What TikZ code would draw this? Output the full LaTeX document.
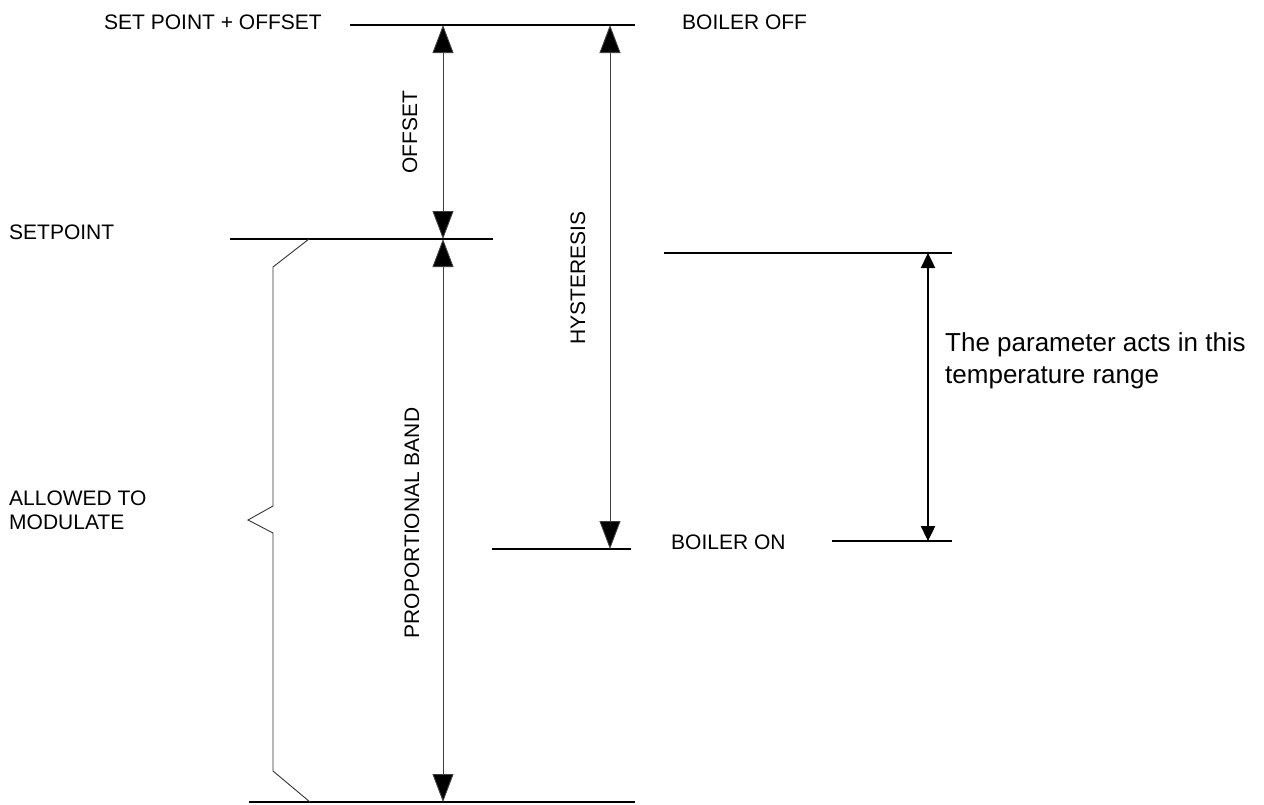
\documentclass[tikz,border=0pt]{standalone}
\usepackage{fontspec}
\setmainfont{Liberation Sans}
\usetikzlibrary{arrows.meta}
\begin{document}
\begin{tikzpicture}[x=1pt,y=-1pt,
  levelline/.style={line width=2.2pt, draw=black},
  dimarrow/.style={line width=0.9pt, draw=black!75, {Triangle[width=21pt,length=28pt,fill=black]}-{Triangle[width=21pt,length=28pt,fill=black]}},
  rangearrow/.style={line width=2.4pt, draw=black, {Triangle[width=14pt,length=15pt]}-{Triangle[width=14pt,length=15pt]}},
  bracestyle/.style={line width=0.9pt, draw=black!80},
  lbl/.style={inner sep=0pt, font=\fontsize{21}{24}\selectfont},
  big/.style={inner sep=0pt, font=\fontsize{26}{32}\selectfont, align=left}]
\useasboundingbox (0,0) rectangle (1264,804);
% level lines
\coordinate (topL) at (350,25);  \coordinate (topR) at (635,25);
\coordinate (spL) at (230,239);  \coordinate (spR) at (493,239);
\coordinate (botL) at (249,802); \coordinate (botR) at (635,802);
\coordinate (onL) at (492,549);  \coordinate (onR) at (631,549);
\coordinate (rtL) at (664,253);  \coordinate (rtR) at (952,253);
\coordinate (rbL) at (832,541);  \coordinate (rbR) at (952,541);
\draw[levelline] (topL) -- (topR);
\draw[levelline] (spL) -- (spR);
\draw[levelline] (botL) -- (botR);
\draw[levelline] (onL) -- (onR);
\draw[levelline] (rtL) -- (rtR);
\draw[levelline] (rbL) -- (rbR);
% dimension arrows
\coordinate (offT) at (443,25);  \coordinate (offB) at (443,239);
\coordinate (pbT) at (443,239);  \coordinate (pbB) at (443,802);
\coordinate (hyT) at (610,25);   \coordinate (hyB) at (610,549);
\coordinate (raT) at (928,253);  \coordinate (raB) at (928,541);
\draw[dimarrow] (offT) -- (offB);
\draw[dimarrow] (pbT) -- (pbB);
\draw[dimarrow] (hyT) -- (hyB);
\draw[rangearrow] (raT) -- (raB);
% brace
\coordinate (b1) at (309,239); \coordinate (b2) at (273,267);
\coordinate (b3) at (273,506); \coordinate (b4) at (248,520);
\coordinate (b5) at (273,533); \coordinate (b6) at (273,771);
\coordinate (b7) at (310,802);
\draw[bracestyle] (b1) -- (b2) -- (b3) -- (b4) -- (b5) -- (b6) -- (b7);
% labels
\node[lbl, anchor=base west] (spo) at (104,29) {SET POINT + OFFSET};
\node[lbl, anchor=base west] (boff) at (682,29) {BOILER OFF};
\node[lbl, anchor=base west] (sp) at (9,239) {SETPOINT};
\node[lbl, anchor=base west] (atm1) at (9,505) {ALLOWED TO};
\node[lbl, anchor=base west] (atm2) at (9,529) {MODULATE};
\node[lbl, anchor=base west] (bon) at (671,549) {BOILER ON};
\node[lbl, rotate=90] (offl) at (410,132) {OFFSET};
\node[lbl, rotate=90] (hyl) at (578,278) {HYSTERESIS};
\node[lbl, rotate=90] (pbl) at (412,523) {PROPORTIONAL BAND};
\node[big, anchor=base west] (par1) at (945,351) {The parameter acts in this};
\node[big, anchor=base west] (par2) at (945,383) {temperature range};
\end{tikzpicture}
\end{document}
